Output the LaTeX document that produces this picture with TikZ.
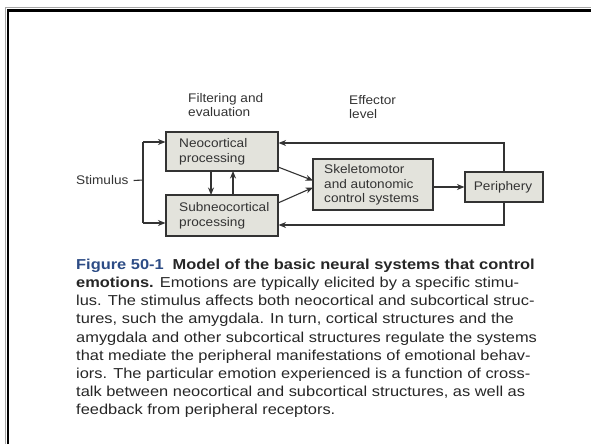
\documentclass[tikz,border=0pt]{standalone}
\usepackage{fontspec}
\setmainfont{Liberation Sans}
\newfontfamily\capfont[FakeStretch=1.14]{Liberation Sans}
\newfontfamily\diafont[FakeStretch=1.09]{Liberation Sans}
\usetikzlibrary{arrows.meta}
\definecolor{ink}{HTML}{333333}
\definecolor{boxfill}{HTML}{E3E3DC}
\definecolor{figblue}{HTML}{2D4C85}
\begin{document}
\begin{tikzpicture}[x=1pt,y=-1pt,
  blk/.style={draw=ink,line width=1.1pt,fill=boxfill,inner sep=0pt},
  lbl/.style={text=ink,font=\diafont\fontsize{12.5}{14.5}\selectfont,align=left,inner sep=0pt},
  conn/.style={draw=ink,line width=1.1pt},
  arr/.style={conn,-{Stealth[length=7.5pt,width=6pt]}}]
\useasboundingbox (0,0) rectangle (591,444);
% slide frame
\draw[gray!70,line width=1pt] (5.5,444) -- (5.5,8) -- (591,8);
\draw[black,line width=2.5pt] (8,444) -- (8,10.5) -- (591,10.5);
% boxes
\node[blk,minimum width=112pt,minimum height=39pt] (neo) at (222,151.5) {};
\node[lbl,anchor=west] (neot) at (179,152) {Neocortical\\processing};
\node[blk,minimum width=112pt,minimum height=41pt] (sub) at (222,215.5) {};
\node[lbl,anchor=west] (subt) at (179,216) {Subneocortical\\processing};
\node[blk,minimum width=120pt,minimum height=51pt] (skel) at (373,184.5) {};
\node[lbl,anchor=west] (skelt) at (324,185) {Skeletomotor\\and autonomic\\control systems};
\node[blk,minimum width=78pt,minimum height=30pt] (peri) at (504,187) {};
\node[lbl,anchor=center] (perit) at (503,187.5) {Periphery};
% labels
\node[lbl,anchor=west] (stim) at (76,180.5) {Stimulus};
\node[lbl,anchor=west] (filt) at (188,105) {Filtering and\\evaluation};
\node[lbl,anchor=west] (eff) at (349,107) {Effector\\level};
% connectors
\coordinate (sj) at (143,180);
\coordinate (st) at (143,142);
\coordinate (sb) at (143,223);
\draw[conn] ([xshift=5pt]stim.east) -- (sj);
\draw[conn] (st) -- (sb);
\draw[arr] (st) -- (st -| neo.west);
\draw[arr] (sb) -- (sb -| sub.west);
\draw[arr] (211,171) -- (211,195);
\draw[arr] (233,195) -- (233,171);
\draw[arr] (278,167) -- (313,180.5);
\draw[arr] (278,203) -- (313,187.5);
\draw[arr] (skel.east |- peri.west) -- (peri.west);
\coordinate (ft) at (504,143);
\coordinate (fb) at (504,225);
\draw[arr] (peri.north) -- (ft) -- (ft -| neo.east);
\draw[arr] (peri.south) -- (fb) -- (fb -| sub.east);
% caption
\node[anchor=north west,inner sep=0pt,align=left,text=black!85,
  font=\capfont\fontsize{14.4}{18.1}\selectfont] (cap) at (76,259) {%
{\bfseries\textcolor{figblue}{Figure 50-1}\hspace{0.3em} Model of the basic neural systems that control}\\
{\bfseries emotions.} Emotions are typically elicited by a specific stimu-\\
lus. The stimulus affects both neocortical and subcortical struc-\\
tures, such the amygdala. In turn, cortical structures and the\\
amygdala and other subcortical structures regulate the systems\\
that mediate the peripheral manifestations of emotional behav-\\
iors. The particular emotion experienced is a function of cross-\\
talk between neocortical and subcortical structures, as well as\\
feedback from peripheral receptors.};
\end{tikzpicture}
\end{document}
